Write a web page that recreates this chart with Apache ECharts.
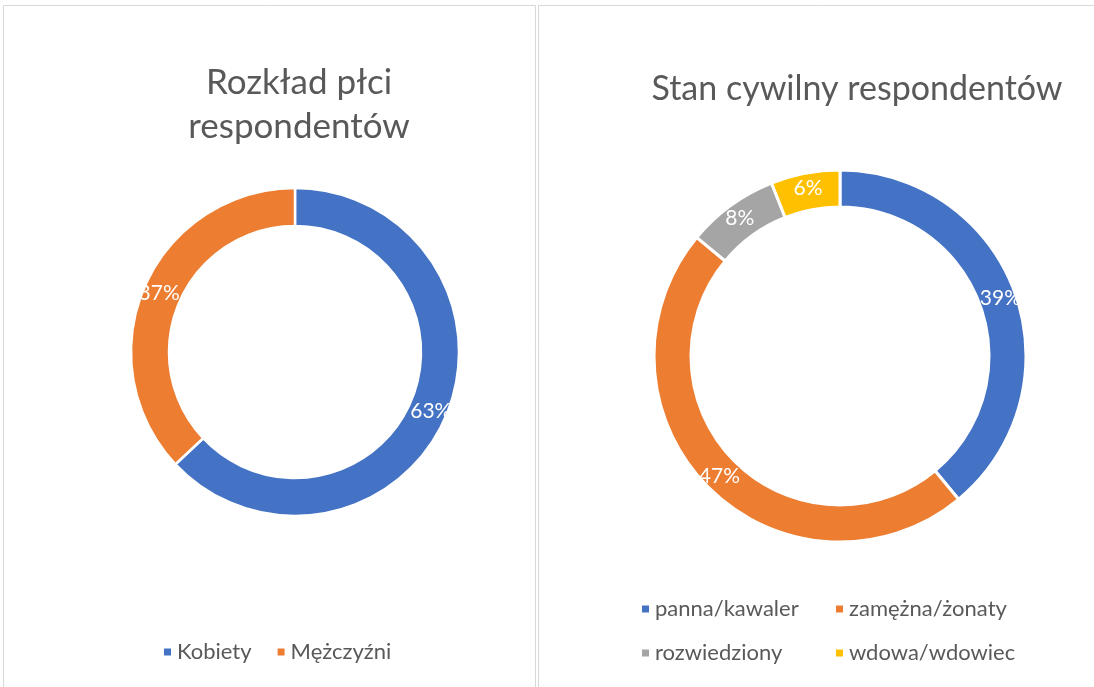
<!DOCTYPE html>
<html><head><meta charset="utf-8">
<script src="https://cdn.jsdelivr.net/npm/echarts@6/dist/echarts.min.js"></script>
<style>html,body{margin:0;padding:0;background:#fff}#c{width:1094px;height:687px}</style>
</head><body><div id="c"></div>
<script>
const genderNames = ['Kobiety', 'Mężczyźni'];
const genderValues = [63, 37];
const maritalNames = ['panna/kawaler', 'zamężna/żonaty', 'rozwiedziony', 'wdowa/wdowiec'];
const maritalValues = [39, 47, 8, 6];
const colors = ['#4472C4', '#ED7D31', '#A5A5A5', '#FFC000'];
const FONT = 'Lato';
const chart = echarts.init(document.getElementById('c'));
const legendText = {color: '#595959', fontSize: 22, fontFamily: FONT};
const labelCfg = {show: true, position: 'inside', formatter: '{d}%', color: '#fff', fontSize: 21, fontFamily: FONT};
chart.setOption({
  animation: false,
  graphic: [
    {type: 'rect', shape: {x: 3.5, y: 5.5, width: 532, height: 700}, style: {fill: 'none', stroke: '#d9d9d9', lineWidth: 1}},
    {type: 'rect', shape: {x: 538.5, y: 5.5, width: 600, height: 700}, style: {fill: 'none', stroke: '#d9d9d9', lineWidth: 1}}
  ],
  title: [
    {text: 'Rozkład płci\nrespondentów', left: 294, top: 56, textAlign: 'center',
     textStyle: {color: '#595959', fontSize: 35, fontWeight: 'normal', fontFamily: FONT, lineHeight: 44}},
    {text: 'Stan cywilny respondentów', left: 852, top: 67, textAlign: 'center',
     textStyle: {color: '#595959', fontSize: 34, fontWeight: 'normal', fontFamily: FONT}}
  ],
  legend: [
    {data: genderNames, left: 157, top: 636, itemWidth: 9, itemHeight: 9, icon: 'rect', itemGap: 24, textStyle: legendText},
    {data: [maritalNames[0], maritalNames[2]], orient: 'vertical', left: 635, top: 593, itemWidth: 9, itemHeight: 9, icon: 'rect', itemGap: 22, textStyle: legendText},
    {data: [maritalNames[1], maritalNames[3]], orient: 'vertical', left: 829, top: 593, itemWidth: 9, itemHeight: 9, icon: 'rect', itemGap: 22, textStyle: legendText}
  ],
  series: [
    {type: 'pie', center: [295, 352], radius: [126, 164], startAngle: 90, clockwise: true,
     itemStyle: {borderColor: '#fff', borderWidth: 2.5}, label: labelCfg, labelLine: {show: false},
     emphasis: {disabled: true},
     data: genderNames.map((n, i) => ({name: n, value: genderValues[i], itemStyle: {color: colors[i]}}))},
    {type: 'pie', center: [840, 356], radius: [149, 186], startAngle: 90, clockwise: true,
     itemStyle: {borderColor: '#fff', borderWidth: 3}, label: labelCfg, labelLine: {show: false},
     emphasis: {disabled: true},
     data: maritalNames.map((n, i) => ({name: n, value: maritalValues[i], itemStyle: {color: colors[i]}}))}
  ]
});
</script></body></html>
